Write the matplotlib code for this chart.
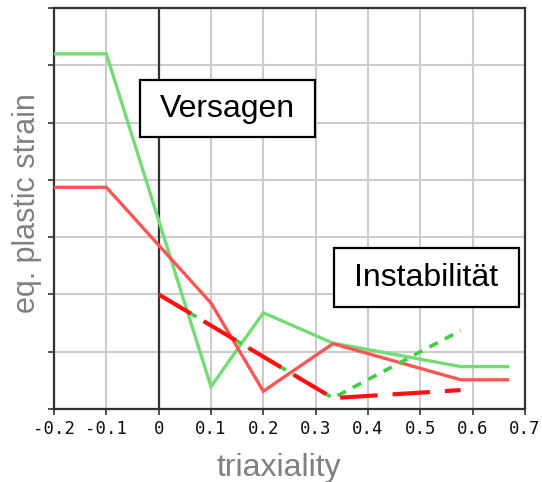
import matplotlib
matplotlib.use("Agg")
import matplotlib.pyplot as plt
from matplotlib.patches import Rectangle

# data
green_x = [-0.2, -0.1, 0.1, 0.2, 0.333, 0.577, 0.667]
green_y = [6.2, 6.2, 0.39, 1.68, 1.15, 0.74, 0.74]
red_x = [-0.2, -0.1, 0.1, 0.2, 0.333, 0.577, 0.667]
red_y = [3.87, 3.87, 1.85, 0.31, 1.14, 0.51, 0.51]
green_dot_x = [0.0, 0.333, 0.577]
green_dot_y = [2.0, 0.19, 1.37]
red_dash_x = [0.0, 0.333, 0.577]
red_dash_y = [2.0, 0.19, 0.33]
xticks = [-0.2, -0.1, 0, 0.1, 0.2, 0.3, 0.4, 0.5, 0.6, 0.7]
xticklabels = ["-0.2", "-0.1", "0", "0.1", "0.2", "0.3", "0.4", "0.5", "0.6", "0.7"]
yticks = [0, 1, 2, 3, 4, 5, 6, 7]
labels = ["Versagen", "Instabilität"]

fig = plt.figure(figsize=(5.42, 4.82), dpi=100)
W, H = 542, 482
ax = fig.add_axes([54 / W, (H - 409) / H, (525 - 54) / W, (409 - 8) / H])

ax.set_xlim(-0.2, 0.7)
ax.set_ylim(0, 7)
ax.set_xticks(xticks)
ax.set_xticklabels(xticklabels, family="DejaVu Sans Mono", fontsize=12.5, color="#111111")
ax.set_yticks(yticks)
ax.set_yticklabels([])
ax.grid(True, color="#cccccc", linewidth=1.5)
ax.set_axisbelow(True)
ax.tick_params(direction="out", length=4, width=1.2, color="#333333", pad=4)
for s in ax.spines.values():
    s.set_color("#333333")
    s.set_linewidth(1.6)

ax.axvline(0, color="#333333", linewidth=1.6, zorder=1)

ax.plot(green_x, green_y, color="#74dc74", linewidth=2.4, solid_joinstyle="miter", zorder=3)
ax.plot(red_x, red_y, color="#ff5555", linewidth=2.4, solid_joinstyle="miter", zorder=3)
ax.plot(green_dot_x, green_dot_y, color="#44cc44", linewidth=2.6, dashes=(2.6, 2.2), zorder=4)
ax.plot(red_dash_x, red_dash_y, color="#ff1111", linewidth=3.0, dashes=(9, 3.6), zorder=5)

boxes = [(0.1826, 0.678, 0.3715, 0.142), (0.594, 0.254, 0.393, 0.147)]
for (bx, by, bw, bh), lab in zip(boxes, labels):
    ax.add_patch(Rectangle((bx, by), bw, bh, transform=ax.transAxes, facecolor="white",
                           edgecolor="black", linewidth=1.6, zorder=6))
    ax.text(bx + bw / 2, by + bh / 2, lab, transform=ax.transAxes, family="Liberation Sans",
            fontsize=23, ha="center", va="center", zorder=7)

ax.set_xlabel("triaxiality", family="Liberation Sans", fontsize=23, color="#808080")
ax.set_ylabel("eq. plastic strain", family="Liberation Sans", fontsize=22, color="#808080")
ax.xaxis.label.set_va("center")
ax.yaxis.label.set_va("center")
ax.xaxis.set_label_coords(0.477, -0.148)
ax.yaxis.set_label_coords(-0.058, 0.514)

fig.savefig("out.png", dpi=100)
